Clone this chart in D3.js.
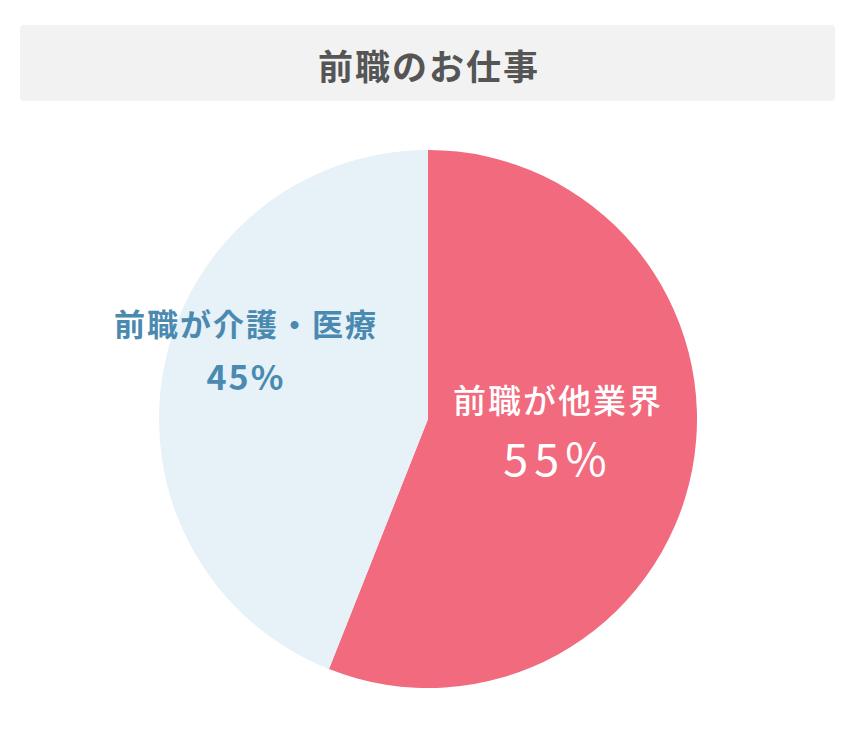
<!DOCTYPE html>
<html>
<head>
<meta charset="utf-8">
<script src="https://cdn.jsdelivr.net/npm/d3@7"></script>
<style>
  html, body { margin: 0; padding: 0; background: #fff; }
  svg { display: block; }
</style>
</head>
<body>
<div id="chart"></div>
<script>
// data
var title = "前職のお仕事";
var categories = ["前職が他業界", "前職が介護・医療"];
var values = [56, 44]; // slice sizes as drawn
var percentLabels = ["55%", "45%"];

var cfg = {
  w: 849,
  h: 736,
  cx: 428,
  cy: 419,
  radius: 269,
  colors: ["#f16a7e", "#e6f1f8"],
  textColors: ["#ffffff", "#4a8ab0"],
  nameWeight: [500, 700],
  pctWeight: [400, 700],
  nameSize: ["33px", "31px"],
  pctSize: ["45px", "34px"],
  nameSpacing: ["2px", "2px"],
  pctSpacing: ["6px", "2px"],
  // label block position relative to the pie centre
  labelPos: [[130, -6], [-182, -83]],
  pctGap: [63, 54],
  font: "'Noto Sans CJK JP', 'Noto Sans', sans-serif"
};

var svg = d3.select("#chart")
  .append("svg")
  .attr("width", cfg.w)
  .attr("height", cfg.h);

// title bar
svg.append("rect")
  .attr("x", 20)
  .attr("y", 25)
  .attr("width", 815)
  .attr("height", 76)
  .attr("rx", 4)
  .attr("fill", "#f2f2f2");

svg.append("text")
  .attr("x", cfg.cx + 1)
  .attr("y", 64)
  .attr("text-anchor", "middle")
  .attr("dominant-baseline", "central")
  .style("font-family", cfg.font)
  .style("font-size", "35px")
  .style("letter-spacing", "2px")
  .style("font-weight", 700)
  .attr("fill", "#555")
  .text(title);

var pie = d3.pie().sort(null).value(function (d) { return d; });
var arc = d3.arc().innerRadius(0).outerRadius(cfg.radius);

var g = svg.append("g")
  .attr("transform", "translate(" + cfg.cx + "," + cfg.cy + ")");

g.selectAll(".slice")
  .data(pie(values))
  .enter()
  .append("path")
  .attr("class", "slice")
  .attr("d", arc)
  .attr("fill", function (d, i) { return cfg.colors[i]; });

// labels
var labels = g.selectAll(".label")
  .data(categories)
  .enter()
  .append("g")
  .attr("class", "label")
  .attr("transform", function (d, i) {
    return "translate(" + cfg.labelPos[i][0] + "," + cfg.labelPos[i][1] + ")";
  });

labels.append("text")
  .attr("text-anchor", "middle")
  .style("font-family", cfg.font)
  .style("font-size", function (d, i) { return cfg.nameSize[i]; })
  .style("font-weight", function (d, i) { return cfg.nameWeight[i]; })
  .style("letter-spacing", function (d, i) { return cfg.nameSpacing[i]; })
  .attr("fill", function (d, i) { return cfg.textColors[i]; })
  .text(function (d) { return d; });

labels.append("text")
  .attr("text-anchor", "middle")
  .attr("y", function (d, i) { return cfg.pctGap[i]; })
  .style("font-family", cfg.font)
  .style("font-size", function (d, i) { return cfg.pctSize[i]; })
  .style("font-weight", function (d, i) { return cfg.pctWeight[i]; })
  .style("letter-spacing", function (d, i) { return cfg.pctSpacing[i]; })
  .attr("fill", function (d, i) { return cfg.textColors[i]; })
  .text(function (d, i) { return percentLabels[i]; });
</script>
</body>
</html>
